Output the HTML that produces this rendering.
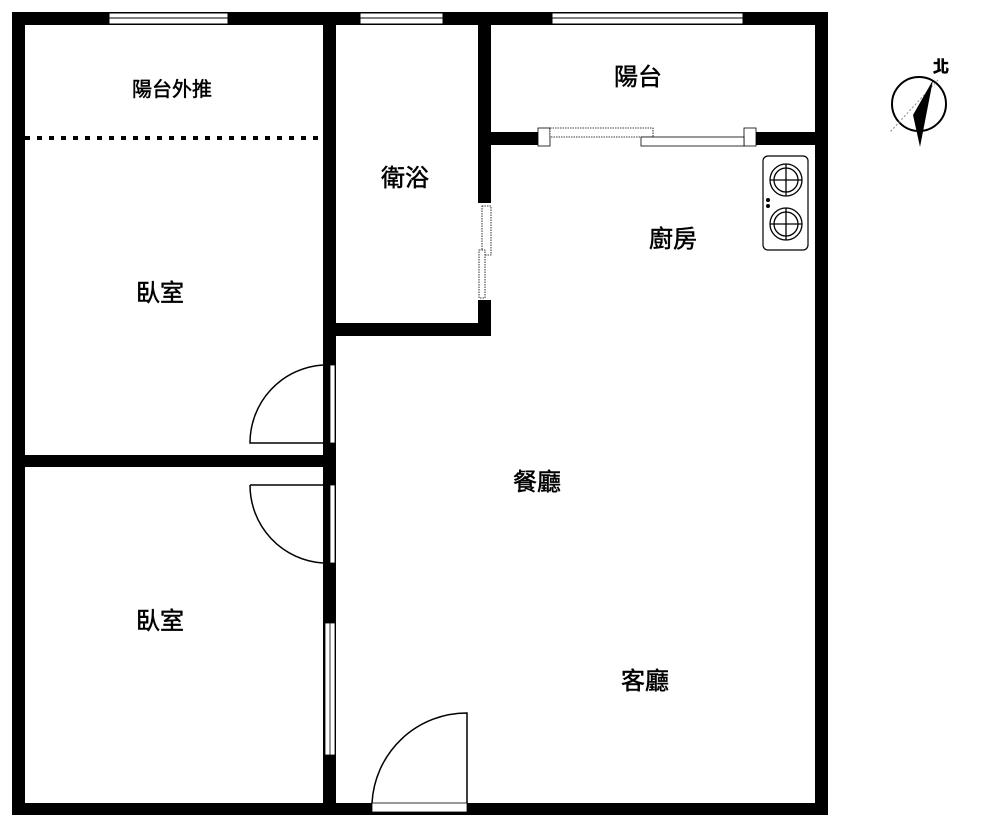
<!DOCTYPE html>
<html><head><meta charset="utf-8"><style>
html,body{margin:0;padding:0;background:#fff;}
svg{display:block}
text{font-family:"Liberation Sans","Noto Sans CJK TC",sans-serif;fill:#000;stroke:#000;stroke-width:0.5;text-anchor:middle;}
</style></head><body>
<svg width="1000" height="828" viewBox="0 0 1000 828" xmlns="http://www.w3.org/2000/svg">
<g fill="#000">
<rect x="12" y="12" width="816" height="13"/>
<rect x="12" y="12" width="13" height="803"/>
<rect x="815" y="12" width="13" height="803"/>
<rect x="12" y="803" width="816" height="12"/>
<rect x="323" y="12" width="13" height="791"/>
<rect x="478" y="12" width="13" height="324"/>
<rect x="323" y="323" width="168" height="13"/>
<rect x="12" y="455" width="311" height="12"/>
<rect x="491" y="132" width="47" height="13"/>
<rect x="755" y="132" width="60" height="13"/>
</g>
<g fill="#fff" stroke="#000" stroke-width="1">
<rect x="109" y="13" width="119" height="11"/>
<rect x="360" y="13" width="83" height="11"/>
<rect x="552" y="13" width="191" height="11"/>
</g>
<g stroke="#000" stroke-width="1">
<line x1="109" y1="18" x2="228" y2="18"/><line x1="360" y1="18" x2="443" y2="18"/><line x1="552" y1="18" x2="743" y2="18"/>
</g>
<line x1="25" y1="138" x2="320" y2="138" stroke="#000" stroke-width="4" stroke-dasharray="5,7"/>
<rect x="478" y="203" width="13" height="97" fill="#fff"/>
<g fill="#fff" stroke="#000" stroke-width="0.8" stroke-dasharray="1.5,1">
<rect x="482" y="206" width="9" height="49"/>
<rect x="479" y="250" width="6" height="48"/>
</g>
<rect x="538" y="132" width="217" height="13" fill="#fff"/>
<g fill="#fff" stroke="#000" stroke-width="0.8">
<rect x="538" y="128" width="12" height="18"/>
<rect x="744" y="128" width="12" height="18"/>
<rect x="550" y="128" width="103" height="9" stroke-dasharray="1.5,1"/>
<rect x="641" y="137" width="103" height="9"/>
</g>
<rect x="323" y="365" width="13" height="78" fill="#000"/>
<rect x="330" y="365" width="5" height="78" fill="#fff" stroke="#000" stroke-width="0.8"/>
<path d="M323 365 A78 78 0 0 0 250 443 L323 443" fill="none" stroke="#000" stroke-width="1.5"/>
<rect x="330" y="485" width="5" height="78" fill="#fff" stroke="#000" stroke-width="0.8"/>
<path d="M250 485 L323 485 M250 485 A78 78 0 0 0 323 563" fill="none" stroke="#000" stroke-width="1.5"/>
<rect x="325" y="623" width="10" height="132" fill="#fff" stroke="#000" stroke-width="0.8"/>
<line x1="330" y1="623" x2="330" y2="755" stroke="#000" stroke-width="0.8"/>
<rect x="372" y="803" width="95" height="9" fill="#fff" stroke="#000" stroke-width="0.8"/>
<path d="M372 803 A95 95 0 0 1 467 713 L467 803" fill="none" stroke="#000" stroke-width="1.5"/>
<rect x="763" y="156" width="45" height="94" rx="5" fill="#fff" stroke="#000" stroke-width="1.2"/>
<g fill="none" stroke="#000" stroke-width="1.3">
<circle cx="786" cy="180" r="16"/><circle cx="786" cy="180" r="12"/>
<circle cx="786" cy="224" r="16"/><circle cx="786" cy="224" r="12"/>
<path d="M770 180 H802 M786 164 V196 M770 224 H802 M786 208 V240"/>
</g>
<circle cx="768" cy="200" r="2" fill="#000"/><circle cx="768" cy="206" r="2" fill="#000"/>
<circle cx="919" cy="104" r="27" fill="none" stroke="#000" stroke-width="2"/>
<line x1="938" y1="80" x2="890" y2="132" stroke="#888" stroke-width="1" stroke-dasharray="2,2"/>
<path d="M933 80 L920 147 L913 115 Z" fill="#000"/>
<text x="941" y="72" font-size="16" font-weight="bold">北</text>
<text x="172" y="96" font-size="20">陽台外推</text>
<text x="405" y="186" font-size="24">衛浴</text>
<text x="160" y="301" font-size="24">臥室</text>
<text x="638" y="85" font-size="24">陽台</text>
<text x="673" y="247" font-size="24">廚房</text>
<text x="537" y="490" font-size="24">餐廳</text>
<text x="645" y="689" font-size="24">客廳</text>
<text x="160" y="629" font-size="24">臥室</text>
</svg>
</body></html>
